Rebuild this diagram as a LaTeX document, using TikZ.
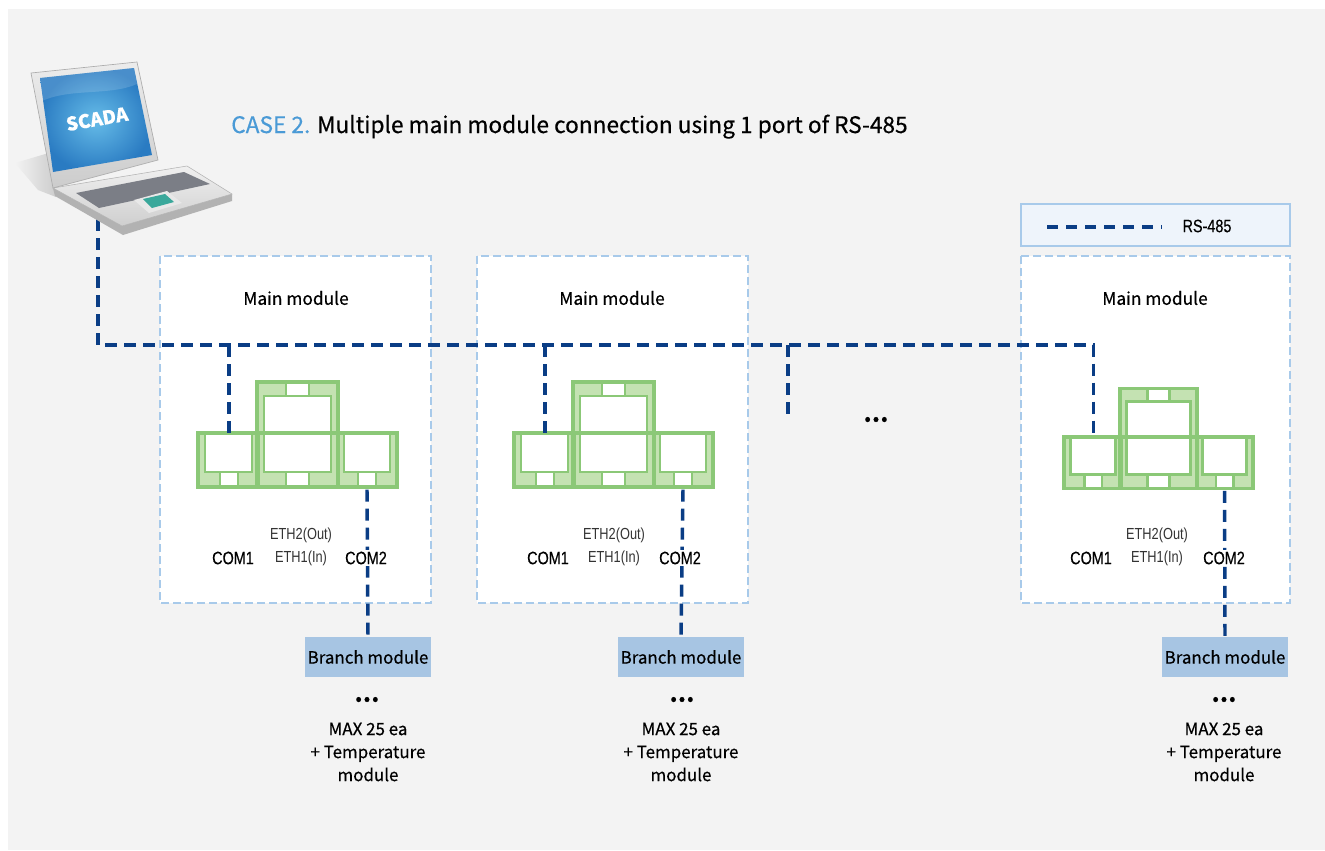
\documentclass[tikz,border=0pt]{standalone}
\usepackage{fontspec}
\setmainfont{Noto Sans CJK KR}[FakeBold=0.5]
\newfontfamily\condfont[FakeStretch=0.8, FakeBold=0.3]{Liberation Sans}
\newfontfamily\thincond[FakeStretch=0.8]{Liberation Sans}

\definecolor{bg}{HTML}{F3F3F3}
\definecolor{navy}{HTML}{0A3D85}
\definecolor{skyline}{HTML}{A8CAEA}
\definecolor{legendfill}{HTML}{EEF4FB}
\definecolor{branchfill}{HTML}{A7C5E3}
\definecolor{devline}{HTML}{8BC877}
\definecolor{devfill}{HTML}{C4E2B2}
\definecolor{casecol}{HTML}{4A9AD6}
\definecolor{labelgray}{HTML}{333333}
\definecolor{keysgray}{HTML}{7B7E86}
\definecolor{padteal}{HTML}{3AA89B}
\definecolor{screenlight}{HTML}{66BCE8}
\definecolor{screendark}{HTML}{2A7BC2}

% one main module: three green units, origin at the top-left of the lower body
\newcommand{\mainunit}[4]{%
  \begin{scope}[shift={(#1,#2)}, scale=#3]
    \fill[devfill] (0,0) rectangle (60,54);
    \fill[devfill] (59,-51) rectangle (140,54);
    \fill[devfill] (140,0) rectangle (199,54);
    \filldraw[devpart] (7,0) rectangle (54,39);
    \filldraw[devpart] (66,-37) rectangle (133,39);
    \filldraw[devpart] (146,0) rectangle (192,39);
    \filldraw[devpart] (22,39) rectangle (40,54);
    \filldraw[devpart] (88,-51) rectangle (111,-37);
    \filldraw[devpart] (88,39) rectangle (111,54);
    \filldraw[devpart] (160,39) rectangle (178,54);
    \draw[devedge] (0,0) rectangle (60,54);
    \draw[devedge] (59,-51) rectangle (140,54);
    \draw[devedge] (140,0) rectangle (199,54);
    \draw[devedge] (59,0) -- (140,0);
    \coordinate (#4c1) at (31,0);
    \coordinate (#4c2) at (169,54);
  \end{scope}}

\begin{document}
\begin{tikzpicture}[x=0.75pt,y=-0.75pt,
  rs/.style={draw=navy, line width=2.6pt, dash pattern=on 9pt off 5.25pt},
  mainbox/.style={draw=skyline, fill=white, line width=1.5pt, dash pattern=on 6pt off 3pt},
  legendbox/.style={draw=skyline, fill=legendfill, line width=1.5pt},
  branch/.style={fill=branchfill, minimum width=94.5pt, minimum height=30pt, inner sep=0pt,
    font=\fontsize{12.7pt}{16pt}\selectfont},
  devpart/.style={fill=white, draw=devline, line width=2.2pt},
  devedge/.style={draw=devline, line width=2.4pt},
  title/.style={font=\fontsize{13pt}{16pt}\selectfont},
  port/.style={font=\condfont\fontsize{13.5pt}{16pt}\selectfont, fill=white, inner sep=1.5pt},
  eth/.style={font=\thincond\fontsize{12pt}{17.25pt}\selectfont, text=labelgray, align=center},
  note/.style={font=\fontsize{12.7pt}{17.25pt}\selectfont, align=center},
  dots/.style={font=\fontsize{14pt}{16pt}\selectfont}
]
\useasboundingbox (0,0) rectangle (1325,850);
\fill[bg] (8,9) rectangle (1325,850);

% title
\node[anchor=base west, inner sep=0pt, font=\fontsize{17pt}{21pt}\selectfont] (heading) at (231,133)
  {\textcolor{casecol}{CASE 2.} Multiple main module connection using 1 port of RS-485};

% legend
\draw[legendbox] (1021,204) rectangle (1290,246);
\coordinate (legA) at (1047,227);
\coordinate (legB) at (1162,227);
\draw[rs, dash pattern=on 8.25pt off 6pt] (legA) -- (legB);
\node[port, fill=none] (legtext) at (1207,226) {RS-485};

% main module frames
\draw[mainbox] (160,256) rectangle (431,603);
\draw[mainbox] (477,256) rectangle (748,603);
\draw[mainbox] (1021,256) rectangle (1290,603);
\node[title] (mm1) at (296,298) {Main module};
\node[title] (mm2) at (612,298) {Main module};
\node[title] (mm3) at (1155,298) {Main module};

% devices
\mainunit{198}{433}{1}{da}
\mainunit{514}{433}{1}{db}
\mainunit{1064}{437}{0.95}{dc}

% branch modules
\node[branch] (bra) at (368,657) {Branch module};
\node[branch] (brb) at (681,657) {Branch module};
\node[branch] (brc) at (1225,657) {Branch module};

\node[dots] (moa) at (367,701) {•\kern1.5pt•\kern1.5pt•};
\node[dots] (mob) at (682,701) {•\kern1.5pt•\kern1.5pt•};
\node[dots] (moc) at (1224,701) {•\kern1.5pt•\kern1.5pt•};
\node[note] (nta) at (368,752) {MAX 25 ea\\+ Temperature\\module};
\node[note] (ntb) at (681,752) {MAX 25 ea\\+ Temperature\\module};
\node[note] (ntc) at (1224,752) {MAX 25 ea\\+ Temperature\\module};
\node[dots] (midots) at (876,421) {•\kern1.5pt•\kern1.5pt•};

% RS-485 bus
\coordinate (pc) at (98,200);
\coordinate (bus) at (98,345);
\coordinate (stub) at (788,420);
\draw[rs] (pc) |- (dcc1 |- bus) -- (dcc1);
\draw[rs] (dac1 |- bus) -- (dac1);
\draw[rs] (dbc1 |- bus) -- (dbc1);
\draw[rs] (stub |- bus) -- (stub);
\draw[rs] ([yshift=-2pt]dac2) -- (bra.north);
\draw[rs] ([yshift=-2pt]dbc2) -- (brb.north);
\draw[rs] ([yshift=-2pt]dcc2) -- (brc.north);

% port labels
\node[port] (com1a) at (233,558) {COM1};
\node[eth]  (etha)  at (301,547) {ETH2(Out)\\ETH1(In)};
\node[port] (com2a) at (366,558) {COM2};
\node[port] (com1b) at (548,558) {COM1};
\node[eth]  (ethb)  at (614,547) {ETH2(Out)\\ETH1(In)};
\node[port] (com2b) at (680,558) {COM2};
\node[port] (com1c) at (1091,558) {COM1};
\node[eth]  (ethc)  at (1157,547) {ETH2(Out)\\ETH1(In)};
\node[port] (com2c) at (1224,558) {COM2};

% SCADA laptop
\shade[left color=bg, right color=gray!40] (15,163) -- (52,152) -- (56,197) -- (38,190) -- cycle;
% base
\fill[gray!60] (53,188) -- (122,226) -- (232,194) -- (232,201) -- (123,235) -- (55,196) -- cycle;
\shade[top color=gray!12, bottom color=gray!38, draw=gray!60, line width=0.4pt]
  (53,188) -- (187,166) -- (232,194) -- (122,226) -- cycle;
\fill[keysgray] (76,193) -- (184,172) -- (210,184) -- (99,208) -- cycle;
\fill[gray!18] (134,200) -- (167,191) -- (182,203) -- (149,213) -- cycle;
\fill[padteal] (143,199) -- (165,194) -- (174,202) -- (152,208) -- cycle;
% lid
\shade[top color=gray!15, bottom color=gray!40, draw=gray!65, line width=0.5pt]
  (31,73) -- (137,62) -- (158,160) -- (53,188) -- cycle;
\shade[inner color=screenlight, outer color=screendark]
  (40,78) -- (134,68) -- (152,155) -- (53,172) -- cycle;
\fill[white, opacity=0.15] (40,78) -- (134,68) -- (137,84) .. controls (110,96) and (70,88) .. (42,101) -- cycle;
\node[text=white, rotate=10, font=\bfseries\fontsize{14pt}{16pt}\selectfont] (scada) at (97,119) {SCADA};
\end{tikzpicture}
\end{document}
